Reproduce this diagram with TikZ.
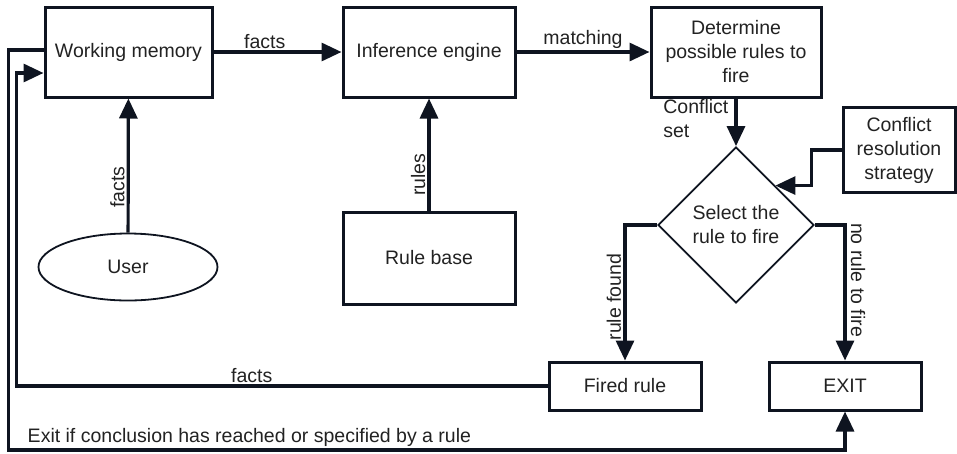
\documentclass[tikz,border=0pt]{standalone}
\usepackage{fontspec}
\setmainfont{Liberation Sans}
\usetikzlibrary{shapes.geometric,arrows.meta}
\definecolor{ink}{HTML}{0E1420}
\definecolor{txt}{HTML}{222222}

\begin{document}
\begin{tikzpicture}[x=1pt,y=-1pt,
	box/.style={draw=ink, line width=3pt, inner sep=2pt, align=center, text=txt, font=\fontsize{19.5}{24}\selectfont},
	conn/.style={draw=ink, line width=3.2pt, -{Triangle[length=20pt,width=18pt]}},
	lbl/.style={text=txt, inner sep=2pt, font=\fontsize{19.5}{24}\selectfont}]
	\useasboundingbox (0,0) rectangle (957,453);
	
	\node[box, minimum width=167pt, minimum height=90pt] (wm) at (128.5,52) {Working memory};
	\node[box, minimum width=172pt, minimum height=90pt] (ie) at (429,52) {Inference engine};
	\node[box, minimum width=170pt, minimum height=90pt] (det) at (736,52) {Determine\\possible rules to\\fire};
	\node[box, minimum width=112pt, minimum height=85pt] (crs) at (899,150) {Conflict\\resolution\\strategy};
	\node[box, draw=ink, line width=1.8pt, diamond, minimum width=156pt, minimum height=156pt, inner sep=0pt] (sel) at (736,225) {Select the\\rule to fire};
	\node[box, line width=1.8pt, ellipse, minimum width=179pt, minimum height=67pt] (user) at (128,267) {User};
	\node[box, minimum width=172pt, minimum height=92pt] (rb) at (429,258) {Rule base};
	\node[box, minimum width=152pt, minimum height=48pt] (fired) at (625,386) {Fired rule};
	\node[box, minimum width=152pt, minimum height=48pt] (exit) at (845,386) {EXIT};
	\coordinate (bot) at (0,450);
	
	\draw[conn] (wm) -- node[lbl, above, pos=0.4] (f1) {facts} (ie);
	\draw[conn] (ie) -- node[lbl, above] (m1) {matching} (det);
	\draw[conn] (user) -- node[lbl, pos=0.34, above, sloped] (f2) {facts} (wm);
	\draw[conn] (rb) -- node[lbl, pos=0.32, above, sloped] (r1) {rules} (ie);
	\draw[conn] (det) -- node[lbl, pos=0.42, left, align=left, xshift=-4pt] (cs) {Conflict\\set} (sel);
	\draw[conn] (crs.west) -- ++(-30,0) |- (sel.north east);
	
	\draw[conn] (sel.west) -| (fired.north);
	\draw[conn] (sel.east) -| (exit.north);
	\node[lbl, rotate=90] (rf) at (614,297) {rule found};
	\node[lbl, rotate=-90] (nr) at (858,280) {no rule to fire};
	
	\draw[conn] (fired.west) -- node[lbl, above, pos=0.557] (f3) {facts} ++(-531,0) |- ([yshift=-21pt]wm.west);
	\draw[conn] ([yshift=2pt]wm.west) -- ++(-35,0) |- node[lbl, above, pos=0.644] (ex) {Exit if conclusion has reached or specified by a rule} (exit.south |- bot) -- (exit.south);
\end{tikzpicture}
\end{document}
